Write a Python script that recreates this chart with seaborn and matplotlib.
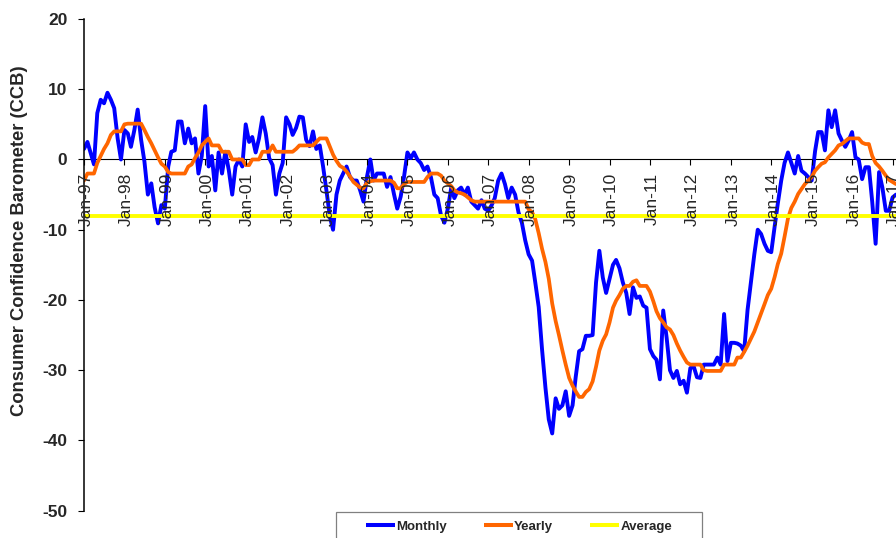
import matplotlib
matplotlib.use("Agg")
import matplotlib.pyplot as plt
import matplotlib.dates as mdates
from matplotlib.patches import Rectangle
from matplotlib.lines import Line2D
from matplotlib.transforms import ScaledTranslation
import pandas as pd
import seaborn as sns

# Consumer Confidence Barometer, monthly readings Jan-1997 .. Feb-2017
monthly_1997 = [1.5, 2.5, 1.0, -0.7, 6.6, 8.5, 8.0, 9.5, 8.5, 7.3, 3.0, 0.0]
monthly_1998 = [4.2, 3.7, 1.8, 4.2, 7.1, 2.8, -0.3, -5.0, -3.4, -6.8, -9.1, -6.5]
monthly_1999 = [-7.0, -1.0, 1.1, 1.3, 5.4, 5.4, 2.3, 4.4, 2.3, 3.0, -2.0, 0.5]
monthly_2000 = [7.6, -1.0, 0.5, -4.4, 1.0, -2.0, 1.1, -1.5, -5.0, -1.0, 0.0, -1.0]
monthly_2001 = [5.0, 2.5, 3.2, 1.0, 3.0, 6.0, 3.7, 0.2, -0.8, -5.0, -2.0, -0.5]
monthly_2002 = [6.0, 5.0, 3.5, 4.5, 6.1, 6.0, 2.8, 1.9, 4.0, 1.5, 2.0, -1.0]
monthly_2003 = [-4.5, -8.2, -10.0, -5.0, -3.0, -2.0, -1.0, -2.5, -3.0, -3.0, -4.4, -6.0]
monthly_2004 = [-2.5, 0.0, -3.0, -2.0, -2.0, -2.0, -3.9, -2.5, -4.9, -7.0, -5.3, -2.5]
monthly_2005 = [1.0, 0.2, 1.0, 0.0, -0.5, -1.5, -1.0, -2.5, -5.0, -5.5, -8.0, -9.0]
monthly_2006 = [-7.0, -4.0, -5.5, -4.4, -4.0, -5.0, -4.0, -6.0, -6.5, -7.0, -5.8, -7.0]
monthly_2007 = [-7.3, -6.5, -5.5, -3.0, -2.0, -3.5, -5.5, -4.0, -5.0, -7.5, -9.0, -11.5]
monthly_2008 = [-13.5, -14.4, -17.5, -21.0, -27.0, -32.5, -37.0, -39.0, -34.0, -35.5, -35.0, -33.0]
monthly_2009 = [-36.5, -35.0, -31.0, -27.3, -27.0, -25.1, -25.1, -25.0, -17.5, -13.0, -16.8, -19.0]
monthly_2010 = [-17.0, -15.0, -14.3, -15.5, -17.5, -19.0, -22.0, -18.2, -19.7, -19.5, -20.8, -21.1]
monthly_2011 = [-27.0, -28.0, -28.5, -31.3, -21.5, -25.4, -30.0, -31.1, -30.1, -32.0, -31.5, -33.2]
monthly_2012 = [-29.7, -29.5, -31.0, -31.1, -29.2, -29.2, -29.2, -29.2, -28.2, -29.2, -22.0, -28.7]
monthly_2013 = [-26.1, -26.1, -26.2, -26.5, -27.3, -21.4, -17.5, -13.5, -10.0, -10.6, -12.0, -13.0]
monthly_2014 = [-13.2, -9.5, -6.3, -3.0, -0.5, 1.0, -0.5, -2.0, 0.5, -1.6, -2.0, -2.5]
monthly_2015 = [-3.0, 1.2, 3.9, 3.9, 1.3, 7.0, 4.6, 7.0, 3.7, 2.7, 1.8, 2.7]
monthly_2016 = [3.9, 0.3, 0.0, -2.8, -1.1, -1.1, -6.0, -12.0, -1.8, -4.0, -7.3, -7.3]
monthly_2017 = [-5.4, -5.0]

# Yearly (rolling) barometer
yearly_1997 = [-3.0, -2.0, -2.0, -2.0, -0.5, 0.5, 1.5, 2.3, 3.5, 4.0, 4.0, 4.0]
yearly_1998 = [5.0, 5.1, 5.1, 5.1, 5.1, 5.1, 4.2, 3.2, 2.3, 1.3, 0.3, -0.6]
yearly_1999 = [-1.0, -1.8, -2.0, -2.0, -2.0, -2.0, -2.0, -1.0, -0.7, 0.2, 1.0, 2.0]
yearly_2000 = [2.5, 3.0, 2.0, 2.0, 2.0, 1.1, 1.1, 1.1, 0.0, 0.0, 0.0, 0.0]
yearly_2001 = [-0.8, -0.8, 0.0, 0.0, 0.0, 1.1, 1.1, 1.1, 2.0, 1.1, 1.1, 1.1]
yearly_2002 = [1.1, 1.1, 1.1, 1.5, 2.0, 2.0, 2.0, 2.0, 2.0, 2.5, 3.0, 3.0]
yearly_2003 = [3.0, 1.8, 0.7, -0.2, -0.9, -1.2, -1.7, -2.4, -3.2, -3.6, -4.0, -4.1]
yearly_2004 = [-3.3, -3.1, -3.0, -3.0, -3.0, -3.0, -3.0, -3.0, -3.3, -4.1, -4.1, -3.5]
yearly_2005 = [-3.2, -3.2, -3.2, -3.2, -3.2, -3.2, -2.5, -2.0, -2.0, -2.0, -2.3, -3.0]
yearly_2006 = [-3.4, -3.8, -4.4, -4.7, -4.8, -5.0, -5.4, -5.8, -6.0, -6.0, -6.0, -6.0]
yearly_2007 = [-6.0, -6.0, -6.0, -6.0, -6.0, -6.0, -6.0, -6.0, -6.0, -6.0, -6.0, -6.0]
yearly_2008 = [-7.1, -7.5, -8.5, -10.5, -12.7, -14.6, -17.0, -20.5, -23.0, -25.0, -27.2, -29.2]
yearly_2009 = [-31.1, -32.2, -33.0, -33.8, -33.8, -33.1, -32.7, -31.6, -29.5, -27.2, -25.8, -24.9]
yearly_2010 = [-23.2, -21.1, -20.1, -19.3, -18.4, -18.0, -18.0, -17.4, -17.2, -18.0, -18.0, -18.0]
yearly_2011 = [-18.8, -20.2, -21.6, -22.6, -23.2, -23.9, -24.2, -25.0, -26.2, -27.2, -28.1, -28.9]
yearly_2012 = [-29.2, -29.2, -29.2, -29.2, -30.0, -30.1, -30.1, -30.1, -30.1, -30.1, -29.2, -29.2]
yearly_2013 = [-29.2, -29.2, -28.2, -28.2, -27.4, -26.5, -25.5, -24.5, -23.2, -21.9, -20.6, -19.3]
yearly_2014 = [-18.4, -16.7, -14.9, -13.4, -11.0, -8.4, -6.9, -6.0, -4.9, -4.2, -3.5, -3.0]
yearly_2015 = [-2.5, -1.6, -1.1, -0.6, -0.4, 0.3, 0.8, 1.3, 2.0, 2.2, 2.6, 3.0]
yearly_2016 = [3.0, 3.0, 3.0, 2.4, 2.2, 2.2, 0.5, -0.5, -1.0, -1.6, -2.3, -2.9]
yearly_2017 = [-3.2, -3.5]

average_ccb = -8.0

series_names = ["Monthly", "Yearly", "Average"]
series_colors = ["#0000FF", "#FF6600", "#FFFF00"]
y_ticks = [-50, -40, -30, -20, -10, 0, 10, 20]
y_title = "Consumer Confidence Barometer (CCB)"

monthly = (monthly_1997 + monthly_1998 + monthly_1999 + monthly_2000 + monthly_2001
           + monthly_2002 + monthly_2003 + monthly_2004 + monthly_2005 + monthly_2006
           + monthly_2007 + monthly_2008 + monthly_2009 + monthly_2010 + monthly_2011
           + monthly_2012 + monthly_2013 + monthly_2014 + monthly_2015 + monthly_2016
           + monthly_2017)
yearly = (yearly_1997 + yearly_1998 + yearly_1999 + yearly_2000 + yearly_2001
          + yearly_2002 + yearly_2003 + yearly_2004 + yearly_2005 + yearly_2006
          + yearly_2007 + yearly_2008 + yearly_2009 + yearly_2010 + yearly_2011
          + yearly_2012 + yearly_2013 + yearly_2014 + yearly_2015 + yearly_2016
          + yearly_2017)

dates = pd.date_range("1997-01-01", periods=len(monthly), freq="MS")
df = pd.DataFrame({"date": dates, "Monthly": monthly, "Yearly": yearly})

sns.set_style("white")
plt.rcParams["font.family"] = ["Liberation Sans", "DejaVu Sans"]
plt.rcParams["axes.unicode_minus"] = False

W, H = 896, 538
fig = plt.figure(figsize=(W / 100, H / 100), dpi=100)
ax = fig.add_axes([84 / W, 27.3 / H, 812 / W, 491.7 / H])

sns.lineplot(data=df, x="date", y="Monthly", color=series_colors[0], lw=2.8,
             ax=ax, zorder=2.0, legend=False)
sns.lineplot(data=df, x="date", y="Yearly", color=series_colors[1], lw=2.7,
             ax=ax, zorder=2.1, legend=False)
ax.axhline(average_ccb, color=series_colors[2], lw=2.8, zorder=2.2)

ax.set_ylim(-50, 20)
ax.set_yticks(y_ticks)
ax.set_xlim(pd.Timestamp("1997-01-01"), pd.Timestamp("2017-02-01"))
ax.xaxis.set_major_locator(mdates.YearLocator())
ax.xaxis.set_major_formatter(mdates.DateFormatter("%b-%y"))
ax.set_xlabel("")
ax.set_ylabel("")

# axis styling: x axis sits on the zero line, labels drawn above the series
for side in ("top", "right"):
    ax.spines[side].set_visible(False)
ax.spines["bottom"].set_position(("data", 0))
ax.spines["bottom"].set_color("black")
ax.spines["bottom"].set_linewidth(0.8)
ax.spines["bottom"].set_zorder(1.0)
ax.spines["left"].set_color("black")
ax.spines["left"].set_linewidth(1.1)
ax.set_axisbelow(False)

ax.tick_params(axis="y", which="major", direction="out", length=4, width=0.8,
               color="black", pad=8, labelsize=12.5, left=True)
ax.tick_params(axis="x", which="major", direction="out", length=4.3, width=0.8,
               color="black", pad=5, labelsize=12.5, bottom=True,
               labelrotation=90)
for lbl in ax.get_yticklabels():
    lbl.set_fontweight("bold")
ax.grid(False)

fig.canvas.draw()
shift = ScaledTranslation(2.0 / 100, 0, fig.dpi_scale_trans)
for lbl in ax.get_xticklabels():
    lbl.set_transform(lbl.get_transform() + shift)

fig.text(20 / W, 1 - 241 / H, y_title, rotation=90, ha="center", va="center",
         fontsize=13.2, fontweight="bold")

# legend box along the bottom edge
fig.patches.append(Rectangle((336 / W, -0.05), 366 / W, 0.05 + (538 - 512.3) / H,
                             transform=fig.transFigure, facecolor="white",
                             edgecolor="#808080", linewidth=0.9))
handles = [Line2D([], [], color=c, lw=2.9, solid_capstyle="butt") for c in series_colors]
fig.legend(handles, series_names, loc="center", bbox_to_anchor=(519 / W, 1 - 526.7 / H),
           ncol=3, frameon=False, prop={"weight": "bold", "size": 9.5},
           handlelength=2.2, handletextpad=0.1, columnspacing=2.8, borderpad=0)

fig.savefig("out.png", dpi=100)
